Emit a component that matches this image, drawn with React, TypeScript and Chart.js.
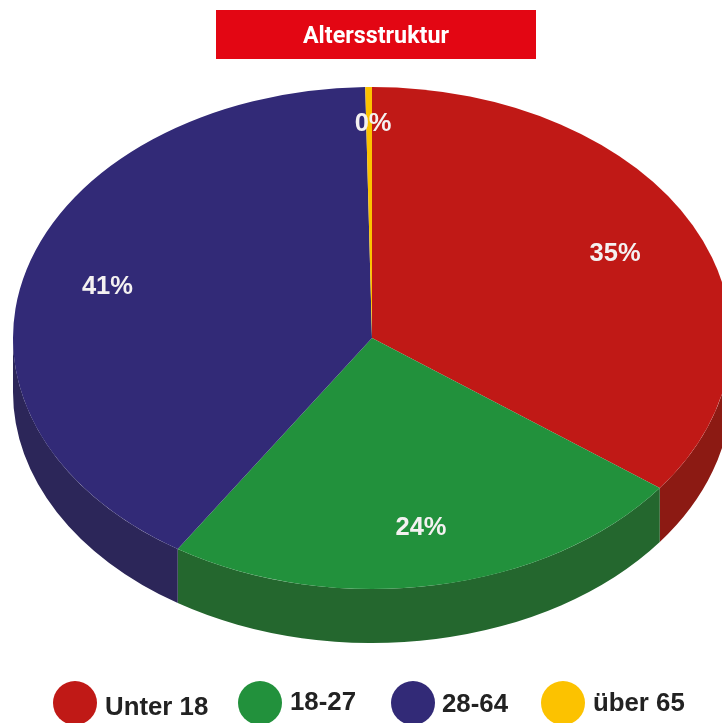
import React, { useEffect, useRef } from "react";
import { Chart, registerables } from "chart.js";

Chart.register(...registerables);

const titleText = "Altersstruktur";
const categories = ["Unter 18", "18-27", "28-64", "über 65"];
const shares = [35.2, 23.9, 40.6, 0.3];
const valueLabels = ["35%", "24%", "41%", "0%"];
const topColors = ["#c01916", "#22913c", "#322a77", "#fcc200"];
const sideColors = ["#8c1a13", "#24672e", "#2c2659", "#b88e00"];

const RADIUS = 359;
const TILT = 251 / RADIUS;
const DEPTH = 54;
const LABEL_FONT = 'bold 25.5px "Liberation Sans", Arial, sans-serif';

const tiltedPie = {
  id: "tiltedPie",
  beforeDatasetsDraw(chart: any) {
    const ctx = chart.ctx;
    const arcs = chart.getDatasetMeta(0).data;
    const { x: cx, y: cy, outerRadius: rx } = arcs[0];
    const ry = rx * TILT;
    ctx.save();
    arcs.forEach((arc: any, i: number) => {
      const a = Math.max(arc.startAngle, 0);
      const b = Math.min(arc.endAngle, Math.PI);
      if (b <= a) return;
      ctx.beginPath();
      ctx.ellipse(cx, cy + DEPTH, rx, ry, 0, a, b);
      ctx.ellipse(cx, cy, rx, ry, 0, b, a, true);
      ctx.closePath();
      ctx.fillStyle = sideColors[i];
      ctx.fill();
    });
    ctx.translate(cx, cy);
    ctx.scale(1, TILT);
    ctx.translate(-cx, -cy);
  },
  afterDatasetsDraw(chart: any) {
    const ctx = chart.ctx;
    ctx.restore();
    const arcs = chart.getDatasetMeta(0).data;
    const labelRadius = [272, 275, 275, 307];
    const labelNudgeX = [0, 0, 0, 4];
    ctx.save();
    ctx.font = LABEL_FONT;
    ctx.fillStyle = "#f4f1f1";
    ctx.textAlign = "center";
    ctx.textBaseline = "middle";
    arcs.forEach((arc: any, i: number) => {
      const mid = (arc.startAngle + arc.endAngle) / 2;
      const x = arc.x + labelRadius[i] * Math.cos(mid) + labelNudgeX[i];
      const y = arc.y + labelRadius[i] * TILT * Math.sin(mid);
      ctx.fillText(valueLabels[i], x, y + 1);
    });
    ctx.restore();
  },
  afterDraw(chart: any) {
    const ctx = chart.ctx;
    ctx.save();
    // Title banner
    ctx.fillStyle = "#e30613";
    ctx.fillRect(216, 10, 320, 49);
    ctx.fillStyle = "#ffffff";
    ctx.font = '700 23.3px "Roboto", sans-serif';
    ctx.textAlign = "center";
    ctx.textBaseline = "middle";
    ctx.fillText(titleText, 376, 37);
    // Legend
    const centers = [75, 260, 413, 563];
    const textStarts = [105, 290, 442, 593];
    const baselines = [715, 710, 712, 711];
    ctx.textAlign = "left";
    ctx.textBaseline = "alphabetic";
    ctx.font = 'bold 25.8px "Liberation Sans", Arial, sans-serif';
    categories.forEach((name, i) => {
      ctx.beginPath();
      ctx.ellipse(centers[i], 703, 22, 22, 0, 0, Math.PI * 2);
      ctx.fillStyle = topColors[i];
      ctx.fill();
      ctx.fillStyle = "#222222";
      ctx.fillText(name, textStarts[i], baselines[i]);
    });
    ctx.restore();
  },
};

export default function App() {
  const ref = useRef<HTMLCanvasElement>(null);
  useEffect(() => {
    const chart = new Chart(ref.current!, {
      type: "pie",
      data: {
        labels: categories,
        datasets: [
          {
            data: shares,
            backgroundColor: topColors,
            borderWidth: 0,
            radius: RADIUS,
            clip: false,
          } as any,
        ],
      },
      options: {
        responsive: false,
        animation: false,
        events: [],
        layout: { padding: { left: 22, right: 0, top: 0, bottom: 47 } },
        plugins: { legend: { display: false }, title: { display: false }, tooltip: { enabled: false } },
      },
      plugins: [tiltedPie],
    });
    return () => chart.destroy();
  }, []);
  return (
    <div style={{ position: "absolute", left: 0, top: 0, width: 722, height: 723, background: "#fff" }}>
      <canvas ref={ref} width={722} height={723} style={{ display: "block" }} />
    </div>
  );
}
